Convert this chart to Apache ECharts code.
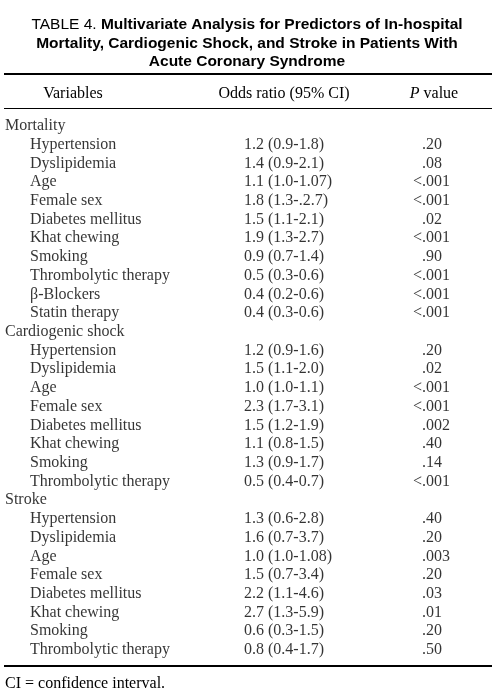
<!DOCTYPE html>
<html>
<head>
<meta charset="utf-8">
<script src="https://cdn.jsdelivr.net/npm/echarts@6/dist/echarts.min.js"></script>
<style>
  html, body { margin: 0; padding: 0; background: #fff; }
  #chart { width: 494px; height: 699px; }
</style>
</head>
<body>
<div id="chart"></div>
<script>
// ---------- DATA ----------
const groupNames = ['Mortality', 'Cardiogenic shock', 'Stroke'];

const mortalityVars = ['Hypertension', 'Dyslipidemia', 'Age', 'Female sex', 'Diabetes mellitus',
  'Khat chewing', 'Smoking', 'Thrombolytic therapy', 'β-Blockers', 'Statin therapy'];
const mortalityOR = ['1.2 (0.9-1.8)', '1.4 (0.9-2.1)', '1.1 (1.0-1.07)', '1.8 (1.3-.2.7)', '1.5 (1.1-2.1)',
  '1.9 (1.3-2.7)', '0.9 (0.7-1.4)', '0.5 (0.3-0.6)', '0.4 (0.2-0.6)', '0.4 (0.3-0.6)'];
const mortalityP = ['.20', '.08', '<.001', '<.001', '.02', '<.001', '.90', '<.001', '<.001', '<.001'];

const shockVars = ['Hypertension', 'Dyslipidemia', 'Age', 'Female sex', 'Diabetes mellitus',
  'Khat chewing', 'Smoking', 'Thrombolytic therapy'];
const shockOR = ['1.2 (0.9-1.6)', '1.5 (1.1-2.0)', '1.0 (1.0-1.1)', '2.3 (1.7-3.1)', '1.5 (1.2-1.9)',
  '1.1 (0.8-1.5)', '1.3 (0.9-1.7)', '0.5 (0.4-0.7)'];
const shockP = ['.20', '.02', '<.001', '<.001', '.002', '.40', '.14', '<.001'];

const strokeVars = ['Hypertension', 'Dyslipidemia', 'Age', 'Female sex', 'Diabetes mellitus',
  'Khat chewing', 'Smoking', 'Thrombolytic therapy'];
const strokeOR = ['1.3 (0.6-2.8)', '1.6 (0.7-3.7)', '1.0 (1.0-1.08)', '1.5 (0.7-3.4)', '2.2 (1.1-4.6)',
  '2.7 (1.3-5.9)', '0.6 (0.3-1.5)', '0.8 (0.4-1.7)'];
const strokeP = ['.40', '.20', '.003', '.20', '.03', '.01', '.20', '.50'];

const headerLabels = ['Variables', 'Odds ratio (95% CI)', '{i|P} value'];
const titlePrefix = 'TABLE 4.';
const titleLines = ['Multivariate Analysis for Predictors of In-hospital',
  'Mortality, Cardiogenic Shock, and Stroke in Patients With',
  'Acute Coronary Syndrome'];
const footnote = 'CI = confidence interval.';

// ---------- BUILD ROWS ----------
const sections = [
  [mortalityVars, mortalityOR, mortalityP],
  [shockVars, shockOR, shockP],
  [strokeVars, strokeOR, strokeP]
];
const rows = []; // {name, level, or, p}
sections.forEach((s, gi) => {
  rows.push({ name: groupNames[gi], level: 0, or: '', p: '' });
  s[0].forEach((v, i) => rows.push({ name: v, level: 1, or: s[1][i], p: s[2][i] }));
});

// ---------- LAYOUT (positions / styles) ----------
const W = 494, H = 699;
const ROW_H = 18.71;
const FIRST_ROW_Y = 126;
const gridTop = FIRST_ROW_Y - ROW_H / 2;
const gridH = ROW_H * rows.length;
const COL_GROUP = 5, COL_VAR = 30, COL_OR = 244, COL_P = 422;
const serif = '"Liberation Serif", "Times New Roman", serif';
const sans = '"Liberation Sans", Arial, sans-serif';
const FS = 16;

const baseLabel = {
  show: true, position: 'inside', align: 'left', verticalAlign: 'middle',
  color: '#000', fontFamily: serif, fontSize: FS
};

const nameData = rows.map((r, i) => ({ value: [r.level ? COL_VAR : COL_GROUP, i], txt: r.name }));
const orData = rows.map((r, i) => r.or ? { value: [COL_OR, i], txt: r.or } : null).filter(Boolean);
const pRest = rows.map((r, i) => r.p ? { value: [COL_P, i], txt: r.p.replace('<', '') } : null).filter(Boolean);
const pPrefix = rows.map((r, i) => r.p && r.p[0] === '<' ? { value: [COL_P, i], txt: '<' } : null).filter(Boolean);

function textSeries(data, align) {
  return {
    type: 'scatter', symbolSize: 0, silent: true, data: data,
    label: Object.assign({}, baseLabel, { align: align, formatter: p => p.data.txt })
  };
}

const chart = echarts.init(document.getElementById('chart'), null, { renderer: 'canvas' });
chart.setOption({
  backgroundColor: '#fff',
  animation: false,
  title: {
    left: 'center', top: 16, padding: 0,
    text: '{r|' + titlePrefix + ' }' + titleLines.map(l => '{b|' + l + '}').join('\n'),
    textStyle: {
      rich: {
        r: { fontFamily: sans, fontSize: 15.5, fontWeight: 'normal', color: '#000', lineHeight: 18.3 },
        b: { fontFamily: sans, fontSize: 15.5, fontWeight: 'bold', color: '#000', lineHeight: 18.3 }
      }
    }
  },
  grid: { left: 0, right: 0, top: gridTop, height: gridH },
  xAxis: { type: 'value', min: 0, max: W, show: false },
  yAxis: { type: 'category', data: rows.map((r, i) => String(i)), inverse: true, show: false },
  series: [
    textSeries(nameData, 'left'),
    textSeries(orData, 'left'),
    textSeries(pRest, 'left'),
    textSeries(pPrefix, 'right')
  ],
  graphic: [
    { type: 'line', shape: { x1: 4, y1: 74, x2: 492, y2: 74 }, style: { stroke: '#000', lineWidth: 2 } },
    { type: 'line', shape: { x1: 4, y1: 108.5, x2: 492, y2: 108.5 }, style: { stroke: '#000', lineWidth: 1 } },
    { type: 'line', shape: { x1: 4, y1: 666, x2: 492, y2: 666 }, style: { stroke: '#000', lineWidth: 2 } },
    { type: 'text', x: 73, y: 94, style: { text: headerLabels[0], align: 'center', verticalAlign: 'middle', font: FS + 'px ' + serif, fill: '#000' } },
    { type: 'text', x: 284, y: 94, style: { text: headerLabels[1], align: 'center', verticalAlign: 'middle', font: FS + 'px ' + serif, fill: '#000' } },
    { type: 'text', x: 434, y: 94, style: { text: headerLabels[2], align: 'center', verticalAlign: 'middle', fontFamily: serif, fontSize: FS, fill: '#000',
      rich: { i: { fontStyle: 'italic', fontFamily: serif, fontSize: FS } } } },
    { type: 'text', x: 5, y: 684, style: { text: footnote, align: 'left', verticalAlign: 'middle', font: FS + 'px ' + serif, fill: '#000' } }
  ]
});
</script>
</body>
</html>
